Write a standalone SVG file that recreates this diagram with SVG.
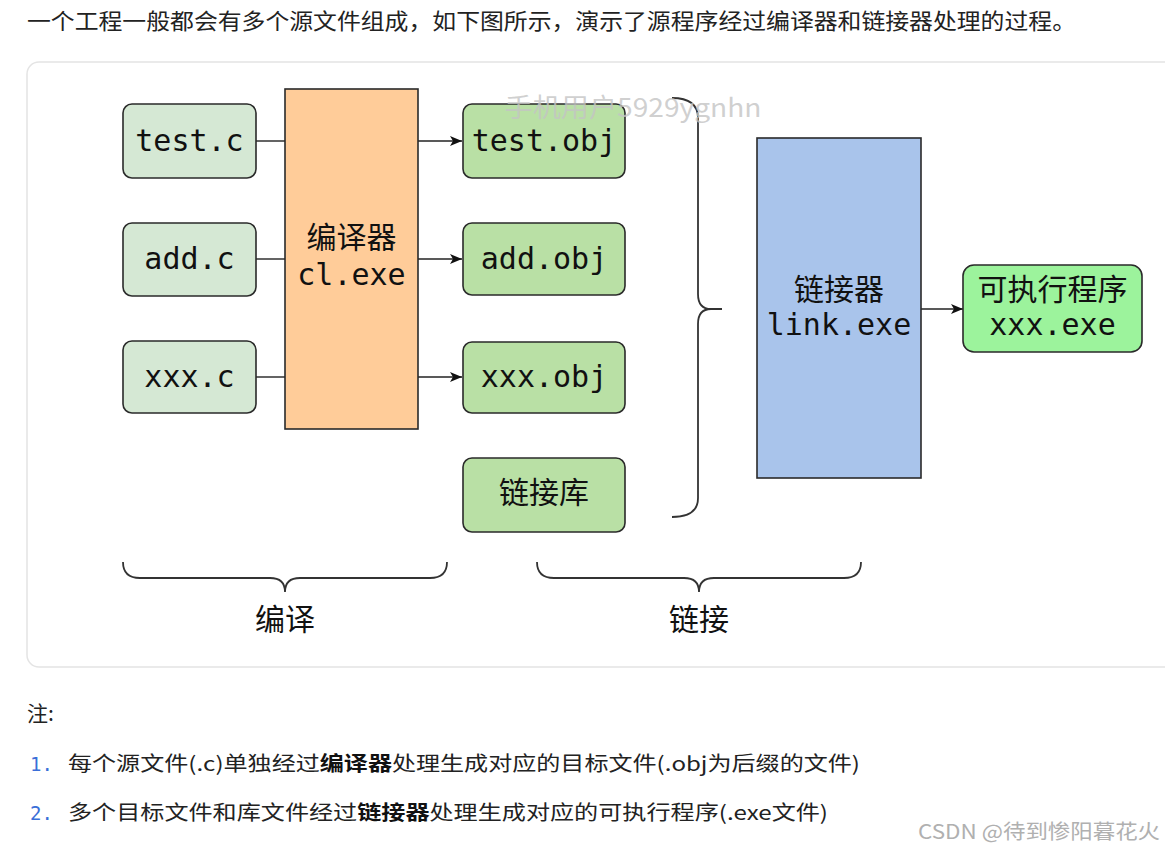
<svg xmlns="http://www.w3.org/2000/svg" width="1165" height="850" viewBox="0 0 1165 850">
<defs>
<marker id="arr" viewBox="0 0 12 10" refX="12" refY="5" markerWidth="12" markerHeight="10" markerUnits="userSpaceOnUse" orient="auto">
<path d="M0,0 L12,5 L0,10 L3,5 Z" fill="#111"/>
</marker>
<style>
.box{stroke:#2a2a2a;stroke-width:1.6}
.src{fill:#d5e8d4}
.obj{fill:#b9e0a5}
.mono{font-family:"DejaVu Sans Mono","Liberation Mono",monospace;font-size:30px;fill:#111;text-anchor:middle}
.cjk{font-family:"Noto Sans CJK SC","Noto Sans",sans-serif;font-size:30px;fill:#111;text-anchor:middle}
.con{stroke:#222;stroke-width:1.4;fill:none}
.brace{stroke:#333;stroke-width:1.8;fill:none}
.para{font-family:"Noto Sans CJK SC","Noto Sans",sans-serif;fill:#222}
</style>
</defs>
<rect width="1165" height="850" fill="#ffffff"/>
<text class="para" x="27" y="29" font-size="22" textLength="1049" lengthAdjust="spacingAndGlyphs">一个工程一般都会有多个源文件组成，如下图所示，演示了源程序经过编译器和链接器处理的过程。</text>
<rect x="27" y="62" width="1160" height="605" rx="12" fill="#ffffff" stroke="#e4e4e4" stroke-width="1.5"/>
<g id="connectors">
<line class="con" x1="256" y1="141" x2="285" y2="141"/>
<line class="con" x1="256" y1="259" x2="285" y2="259"/>
<line class="con" x1="256" y1="377" x2="285" y2="377"/>
<line class="con" x1="418" y1="141" x2="462" y2="141" marker-end="url(#arr)"/>
<line class="con" x1="418" y1="259" x2="462" y2="259" marker-end="url(#arr)"/>
<line class="con" x1="418" y1="377" x2="462" y2="377" marker-end="url(#arr)"/>
<line class="con" x1="921" y1="309" x2="963" y2="309" marker-end="url(#arr)"/>
<path class="brace" d="M672,98 Q698,98 698,118 L698,294 Q698,309 711,309 L722,309 M711,309 Q698,309 698,324 L698,498 Q698,517 672,517"/>
<path class="brace" d="M123,562 Q123,578 140,578 L270,578 Q285,578 285,592 Q285,578 300,578 L430,578 Q447,578 447,562"/>
<path class="brace" d="M537,562 Q537,578 554,578 L684,578 Q699,578 699,592 Q699,578 714,578 L844,578 Q861,578 861,562"/>
</g>
<g id="test_c"><rect class="box src" x="123" y="104" width="133" height="74" rx="9"/><text class="mono" x="189.5" y="151">test.c</text></g>
<g id="add_c"><rect class="box src" x="123" y="223" width="133" height="73" rx="9"/><text class="mono" x="189.5" y="269">add.c</text></g>
<g id="xxx_c"><rect class="box src" x="123" y="341" width="133" height="72" rx="9"/><text class="mono" x="189.5" y="387">xxx.c</text></g>
<g id="compiler"><rect class="box" x="285" y="89" width="133" height="340" fill="#ffcc99"/><text class="cjk" x="351.5" y="248">编译器</text><text class="mono" x="351.5" y="285">cl.exe</text></g>
<g id="test_obj"><rect class="box obj" x="463" y="104" width="162" height="74" rx="9"/><text class="mono" x="544" y="151">test.obj</text></g>
<g id="add_obj"><rect class="box obj" x="463" y="223" width="162" height="72" rx="9"/><text class="mono" x="544" y="269">add.obj</text></g>
<g id="xxx_obj"><rect class="box obj" x="463" y="342" width="162" height="71" rx="9"/><text class="mono" x="544" y="387">xxx.obj</text></g>
<g id="lib"><rect class="box obj" x="463" y="458" width="162" height="74" rx="9"/><text class="cjk" x="544" y="503">链接库</text></g>
<g id="linker"><rect class="box" x="757" y="138" width="164" height="340" fill="#a9c4eb"/><text class="cjk" x="839" y="300">链接器</text><text class="mono" x="839" y="335">link.exe</text></g>
<g id="exe"><rect class="box" x="963" y="265" width="179" height="87" rx="11" fill="#9cf39c"/><text class="cjk" x="1052.5" y="300">可执行程序</text><text class="mono" x="1052.5" y="335">xxx.exe</text></g>
<g id="label_compile"><text class="cjk" x="285" y="630" font-size="28">编译</text></g>
<g id="label_link"><text class="cjk" x="699" y="630" font-size="28">链接</text></g>
<text x="633" y="117" font-family="Noto Sans CJK SC,Noto Sans,sans-serif" font-size="26" fill="#c4c4c4" fill-opacity="0.8" text-anchor="middle" textLength="257" lengthAdjust="spacingAndGlyphs">手机用户5929ygnhn</text>
<text class="para" x="27" y="721" font-size="21">注:</text>
<text x="30" y="771" font-family="DejaVu Sans Mono,monospace" font-size="19" fill="#3a6fd8">1.</text>
<text class="para" x="68" y="771" font-size="20" textLength="792" lengthAdjust="spacingAndGlyphs">每个源文件(.c)单独经过<tspan font-weight="bold" fill="#111">编译器</tspan>处理生成对应的目标文件(.obj为后缀的文件)</text>
<text x="30" y="820" font-family="DejaVu Sans Mono,monospace" font-size="19" fill="#3a6fd8">2.</text>
<text class="para" x="68" y="820" font-size="20" textLength="760" lengthAdjust="spacingAndGlyphs">多个目标文件和库文件经过<tspan font-weight="bold" fill="#111">链接器</tspan>处理生成对应的可执行程序(.exe文件)</text>
<text x="918" y="839" font-family="Noto Sans CJK SC,Noto Sans,sans-serif" font-size="20" fill="#b0b0b0" textLength="242" lengthAdjust="spacingAndGlyphs">CSDN @待到惨阳暮花火</text>
</svg>
